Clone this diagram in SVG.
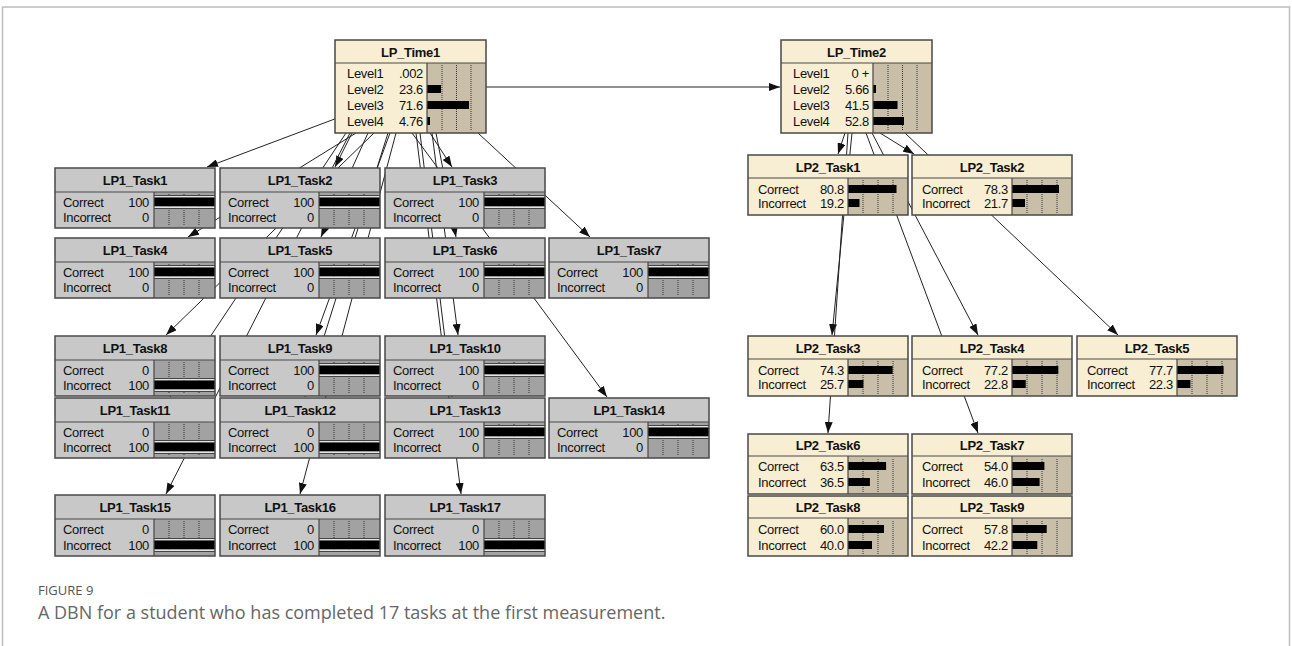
<svg xmlns="http://www.w3.org/2000/svg" xmlns:xlink="http://www.w3.org/1999/xlink" width="1292" height="646" viewBox="0 0 1292 646">
<style>
.bg-g{fill:#c8c8c8}
.bar-g{fill:#a2a2a2}
.bg-c{fill:#f8eed3}
.bar-c{fill:#c9bfa9}
.ol{fill:none;stroke:#484848;stroke-width:1.5}
.sep{stroke:#484848;stroke-width:1.2;fill:none}
.dot{stroke:#333;stroke-width:1;stroke-dasharray:1 1;fill:none}
.t{font-family:"Liberation Sans",Arial,sans-serif;font-size:13px;letter-spacing:-0.3px;fill:#111}
.ti{font-weight:bold;text-anchor:middle}
.v{text-anchor:end}
.edge{stroke:#222;stroke-width:1;fill:none;marker-end:url(#ah)}
.b{fill:#000}
.cap{font-family:"Open Sans","Liberation Sans",sans-serif}
</style>
<defs>
<marker id="ah" markerWidth="11" markerHeight="8" refX="11" refY="4" orient="auto" markerUnits="userSpaceOnUse"><path d="M0,0 L11,4 L0,8 z" fill="#111"/></marker>
<g id="dg"><path class="dot" d="M114,26V58M129,26V58M144,26V58"/></g>
<g id="dc"><path class="dot" d="M115,25V58M130,25V58M145,25V58"/></g>
<g id="dt"><path class="dot" d="M107,25V91M121.5,25V91M136,25V91"/></g>
<g id="full"><rect y="-7" width="61" height="1" fill="#444"/><rect y="-6" width="61" height="1.5" fill="#e4e4e4"/><rect y="-4.5" width="61" height="9" fill="#000"/><rect y="4.5" width="61" height="1.5" fill="#e4e4e4"/><rect y="6" width="61" height="1" fill="#444"/></g>
</defs>
<rect width="1292" height="646" fill="#fff"/>
<path d="M2.5,646V7H1289.5V646" fill="none" stroke="#bdbdbd" stroke-width="1.5"/>

<g id="connectors">
<path class="edge" d="M486,87H780"/>
<path class="edge" d="M340,117L207,167"/>
<path class="edge" d="M352,133L335,167"/>
<path class="edge" d="M430,133L452,167"/>
<path class="edge" d="M356,133L188,237"/>
<path class="edge" d="M368,133L321,237"/>
<path class="edge" d="M436,133L456,237"/>
<path class="edge" d="M478,133L590,237"/>
<path class="edge" d="M374,133L166,335"/>
<path class="edge" d="M390,133L316,335"/>
<path class="edge" d="M432,133L458,335"/>
<path class="edge" d="M346,133L170,397"/>
<path class="edge" d="M388,133L305,397"/>
<path class="edge" d="M420,133L452,397"/>
<path class="edge" d="M412,133L607,397"/>
<path class="edge" d="M350,133L166,494"/>
<path class="edge" d="M396,133L300,494"/>
<path class="edge" d="M416,133L461,494"/>
<path class="edge" d="M845,133L838,154"/>
<path class="edge" d="M880,133L914,154"/>
<path class="edge" d="M852,133L832,335"/>
<path class="edge" d="M872,133L978,335"/>
<path class="edge" d="M905,133L1118,335"/>
<path class="edge" d="M848,133L828,433"/>
<path class="edge" d="M866,133L978,433"/>
</g>

<g id="lp_time1" transform="translate(335,40)">
<rect class="bg-c" width="151" height="93"/><rect class="bar-c" x="92" y="23" width="59" height="70"/>
<use xlink:href="#dt"/>
<rect class="b" x="92" y="45" width="14" height="8"/><rect class="b" x="92" y="61" width="42" height="8"/><rect class="b" x="92" y="77" width="3" height="8"/>
<path class="sep" d="M0,23H151M92,23V93"/><rect class="ol" width="151" height="93"/>
<text class="t ti" x="75.5" y="16.5">LP_Time1</text>
<text class="t" x="12" y="37.5">Level1</text><text class="t v" x="88" y="37.5">.002</text>
<text class="t" x="12" y="53.5">Level2</text><text class="t v" x="88" y="53.5">23.6</text>
<text class="t" x="12" y="69.5">Level3</text><text class="t v" x="88" y="69.5">71.6</text>
<text class="t" x="12" y="85.5">Level4</text><text class="t v" x="88" y="85.5">4.76</text>
</g>

<g id="lp_time2" transform="translate(781,40)">
<rect class="bg-c" width="151" height="93"/><rect class="bar-c" x="92" y="23" width="59" height="70"/>
<use xlink:href="#dt"/>
<rect class="b" x="92" y="45" width="3" height="8"/><rect class="b" x="92" y="61" width="24.5" height="8"/><rect class="b" x="92" y="77" width="31" height="8"/>
<path class="sep" d="M0,23H151M92,23V93"/><rect class="ol" width="151" height="93"/>
<text class="t ti" x="75.5" y="16.5">LP_Time2</text>
<text class="t" x="12" y="37.5">Level1</text><text class="t v" x="88" y="37.5">0 +</text>
<text class="t" x="12" y="53.5">Level2</text><text class="t v" x="88" y="53.5">5.66</text>
<text class="t" x="12" y="69.5">Level3</text><text class="t v" x="88" y="69.5">41.5</text>
<text class="t" x="12" y="85.5">Level4</text><text class="t v" x="88" y="85.5">52.8</text>
</g>

<g id="lp1_task1" transform="translate(55,168)">
<rect class="bg-g" width="160" height="60"/><rect class="bar-g" x="99" y="24" width="61" height="36"/><use xlink:href="#dg"/><use xlink:href="#full" x="99" y="34"/>
<path class="sep" d="M0,24H160M99,24V60"/><rect class="ol" width="160" height="60"/>
<text class="t ti" x="80" y="17">LP1_Task1</text>
<text class="t" x="8" y="38.5">Correct</text><text class="t v" x="94" y="38.5">100</text>
<text class="t" x="8" y="53.5">Incorrect</text><text class="t v" x="94" y="53.5">0</text>
</g>
<g id="lp1_task2" transform="translate(220,168)">
<rect class="bg-g" width="160" height="60"/><rect class="bar-g" x="99" y="24" width="61" height="36"/><use xlink:href="#dg"/><use xlink:href="#full" x="99" y="34"/>
<path class="sep" d="M0,24H160M99,24V60"/><rect class="ol" width="160" height="60"/>
<text class="t ti" x="80" y="17">LP1_Task2</text>
<text class="t" x="8" y="38.5">Correct</text><text class="t v" x="94" y="38.5">100</text>
<text class="t" x="8" y="53.5">Incorrect</text><text class="t v" x="94" y="53.5">0</text>
</g>
<g id="lp1_task3" transform="translate(385,168)">
<rect class="bg-g" width="160" height="60"/><rect class="bar-g" x="99" y="24" width="61" height="36"/><use xlink:href="#dg"/><use xlink:href="#full" x="99" y="34"/>
<path class="sep" d="M0,24H160M99,24V60"/><rect class="ol" width="160" height="60"/>
<text class="t ti" x="80" y="17">LP1_Task3</text>
<text class="t" x="8" y="38.5">Correct</text><text class="t v" x="94" y="38.5">100</text>
<text class="t" x="8" y="53.5">Incorrect</text><text class="t v" x="94" y="53.5">0</text>
</g>
<g id="lp1_task4" transform="translate(55,238)">
<rect class="bg-g" width="160" height="60"/><rect class="bar-g" x="99" y="24" width="61" height="36"/><use xlink:href="#dg"/><use xlink:href="#full" x="99" y="34"/>
<path class="sep" d="M0,24H160M99,24V60"/><rect class="ol" width="160" height="60"/>
<text class="t ti" x="80" y="17">LP1_Task4</text>
<text class="t" x="8" y="38.5">Correct</text><text class="t v" x="94" y="38.5">100</text>
<text class="t" x="8" y="53.5">Incorrect</text><text class="t v" x="94" y="53.5">0</text>
</g>
<g id="lp1_task5" transform="translate(220,238)">
<rect class="bg-g" width="160" height="60"/><rect class="bar-g" x="99" y="24" width="61" height="36"/><use xlink:href="#dg"/><use xlink:href="#full" x="99" y="34"/>
<path class="sep" d="M0,24H160M99,24V60"/><rect class="ol" width="160" height="60"/>
<text class="t ti" x="80" y="17">LP1_Task5</text>
<text class="t" x="8" y="38.5">Correct</text><text class="t v" x="94" y="38.5">100</text>
<text class="t" x="8" y="53.5">Incorrect</text><text class="t v" x="94" y="53.5">0</text>
</g>
<g id="lp1_task6" transform="translate(385,238)">
<rect class="bg-g" width="160" height="60"/><rect class="bar-g" x="99" y="24" width="61" height="36"/><use xlink:href="#dg"/><use xlink:href="#full" x="99" y="34"/>
<path class="sep" d="M0,24H160M99,24V60"/><rect class="ol" width="160" height="60"/>
<text class="t ti" x="80" y="17">LP1_Task6</text>
<text class="t" x="8" y="38.5">Correct</text><text class="t v" x="94" y="38.5">100</text>
<text class="t" x="8" y="53.5">Incorrect</text><text class="t v" x="94" y="53.5">0</text>
</g>
<g id="lp1_task7" transform="translate(549,238)">
<rect class="bg-g" width="160" height="60"/><rect class="bar-g" x="99" y="24" width="61" height="36"/><use xlink:href="#dg"/><use xlink:href="#full" x="99" y="34"/>
<path class="sep" d="M0,24H160M99,24V60"/><rect class="ol" width="160" height="60"/>
<text class="t ti" x="80" y="17">LP1_Task7</text>
<text class="t" x="8" y="38.5">Correct</text><text class="t v" x="94" y="38.5">100</text>
<text class="t" x="8" y="53.5">Incorrect</text><text class="t v" x="94" y="53.5">0</text>
</g>
<g id="lp1_task8" transform="translate(55,336)">
<rect class="bg-g" width="160" height="60"/><rect class="bar-g" x="99" y="24" width="61" height="36"/><use xlink:href="#dg"/><use xlink:href="#full" x="99" y="49"/>
<path class="sep" d="M0,24H160M99,24V60"/><rect class="ol" width="160" height="60"/>
<text class="t ti" x="80" y="17">LP1_Task8</text>
<text class="t" x="8" y="38.5">Correct</text><text class="t v" x="94" y="38.5">0</text>
<text class="t" x="8" y="53.5">Incorrect</text><text class="t v" x="94" y="53.5">100</text>
</g>
<g id="lp1_task9" transform="translate(220,336)">
<rect class="bg-g" width="160" height="60"/><rect class="bar-g" x="99" y="24" width="61" height="36"/><use xlink:href="#dg"/><use xlink:href="#full" x="99" y="34"/>
<path class="sep" d="M0,24H160M99,24V60"/><rect class="ol" width="160" height="60"/>
<text class="t ti" x="80" y="17">LP1_Task9</text>
<text class="t" x="8" y="38.5">Correct</text><text class="t v" x="94" y="38.5">100</text>
<text class="t" x="8" y="53.5">Incorrect</text><text class="t v" x="94" y="53.5">0</text>
</g>
<g id="lp1_task10" transform="translate(385,336)">
<rect class="bg-g" width="160" height="60"/><rect class="bar-g" x="99" y="24" width="61" height="36"/><use xlink:href="#dg"/><use xlink:href="#full" x="99" y="34"/>
<path class="sep" d="M0,24H160M99,24V60"/><rect class="ol" width="160" height="60"/>
<text class="t ti" x="80" y="17">LP1_Task10</text>
<text class="t" x="8" y="38.5">Correct</text><text class="t v" x="94" y="38.5">100</text>
<text class="t" x="8" y="53.5">Incorrect</text><text class="t v" x="94" y="53.5">0</text>
</g>
<g id="lp1_task11" transform="translate(55,398)">
<rect class="bg-g" width="160" height="60"/><rect class="bar-g" x="99" y="24" width="61" height="36"/><use xlink:href="#dg"/><use xlink:href="#full" x="99" y="49"/>
<path class="sep" d="M0,24H160M99,24V60"/><rect class="ol" width="160" height="60"/>
<text class="t ti" x="80" y="17">LP1_Task11</text>
<text class="t" x="8" y="38.5">Correct</text><text class="t v" x="94" y="38.5">0</text>
<text class="t" x="8" y="53.5">Incorrect</text><text class="t v" x="94" y="53.5">100</text>
</g>
<g id="lp1_task12" transform="translate(220,398)">
<rect class="bg-g" width="160" height="60"/><rect class="bar-g" x="99" y="24" width="61" height="36"/><use xlink:href="#dg"/><use xlink:href="#full" x="99" y="49"/>
<path class="sep" d="M0,24H160M99,24V60"/><rect class="ol" width="160" height="60"/>
<text class="t ti" x="80" y="17">LP1_Task12</text>
<text class="t" x="8" y="38.5">Correct</text><text class="t v" x="94" y="38.5">0</text>
<text class="t" x="8" y="53.5">Incorrect</text><text class="t v" x="94" y="53.5">100</text>
</g>
<g id="lp1_task13" transform="translate(385,398)">
<rect class="bg-g" width="160" height="60"/><rect class="bar-g" x="99" y="24" width="61" height="36"/><use xlink:href="#dg"/><use xlink:href="#full" x="99" y="34"/>
<path class="sep" d="M0,24H160M99,24V60"/><rect class="ol" width="160" height="60"/>
<text class="t ti" x="80" y="17">LP1_Task13</text>
<text class="t" x="8" y="38.5">Correct</text><text class="t v" x="94" y="38.5">100</text>
<text class="t" x="8" y="53.5">Incorrect</text><text class="t v" x="94" y="53.5">0</text>
</g>
<g id="lp1_task14" transform="translate(549,398)">
<rect class="bg-g" width="160" height="60"/><rect class="bar-g" x="99" y="24" width="61" height="36"/><use xlink:href="#dg"/><use xlink:href="#full" x="99" y="34"/>
<path class="sep" d="M0,24H160M99,24V60"/><rect class="ol" width="160" height="60"/>
<text class="t ti" x="80" y="17">LP1_Task14</text>
<text class="t" x="8" y="38.5">Correct</text><text class="t v" x="94" y="38.5">100</text>
<text class="t" x="8" y="53.5">Incorrect</text><text class="t v" x="94" y="53.5">0</text>
</g>
<g id="lp1_task15" transform="translate(55,495)">
<rect class="bg-g" width="160" height="61"/><rect class="bar-g" x="99" y="24" width="61" height="37"/><use xlink:href="#dg"/><use xlink:href="#full" x="99" y="50"/>
<path class="sep" d="M0,24H160M99,24V61"/><rect class="ol" width="160" height="61"/>
<text class="t ti" x="80" y="17">LP1_Task15</text>
<text class="t" x="8" y="38.5">Correct</text><text class="t v" x="94" y="38.5">0</text>
<text class="t" x="8" y="54.5">Incorrect</text><text class="t v" x="94" y="54.5">100</text>
</g>
<g id="lp1_task16" transform="translate(220,495)">
<rect class="bg-g" width="160" height="61"/><rect class="bar-g" x="99" y="24" width="61" height="37"/><use xlink:href="#dg"/><use xlink:href="#full" x="99" y="50"/>
<path class="sep" d="M0,24H160M99,24V61"/><rect class="ol" width="160" height="61"/>
<text class="t ti" x="80" y="17">LP1_Task16</text>
<text class="t" x="8" y="38.5">Correct</text><text class="t v" x="94" y="38.5">0</text>
<text class="t" x="8" y="54.5">Incorrect</text><text class="t v" x="94" y="54.5">100</text>
</g>
<g id="lp1_task17" transform="translate(385,495)">
<rect class="bg-g" width="160" height="61"/><rect class="bar-g" x="99" y="24" width="61" height="37"/><use xlink:href="#dg"/><use xlink:href="#full" x="99" y="50"/>
<path class="sep" d="M0,24H160M99,24V61"/><rect class="ol" width="160" height="61"/>
<text class="t ti" x="80" y="17">LP1_Task17</text>
<text class="t" x="8" y="38.5">Correct</text><text class="t v" x="94" y="38.5">0</text>
<text class="t" x="8" y="54.5">Incorrect</text><text class="t v" x="94" y="54.5">100</text>
</g>

<g id="lp2_task1" transform="translate(748,155)">
<rect class="bg-c" width="160" height="60"/><rect class="bar-c" x="100" y="23" width="60" height="37"/><use xlink:href="#dc"/>
<rect class="b" x="100" y="30" width="48.5" height="8"/><rect class="b" x="100" y="44" width="11.5" height="8"/>
<path class="sep" d="M0,23H160M100,23V60"/><rect class="ol" width="160" height="60"/>
<text class="t ti" x="80" y="16.5">LP2_Task1</text>
<text class="t" x="10" y="38.5">Correct</text><text class="t v" x="96" y="38.5">80.8</text>
<text class="t" x="10" y="52.5">Incorrect</text><text class="t v" x="96" y="52.5">19.2</text>
</g>
<g id="lp2_task2" transform="translate(912,155)">
<rect class="bg-c" width="160" height="60"/><rect class="bar-c" x="100" y="23" width="60" height="37"/><use xlink:href="#dc"/>
<rect class="b" x="100" y="30" width="47" height="8"/><rect class="b" x="100" y="44" width="13" height="8"/>
<path class="sep" d="M0,23H160M100,23V60"/><rect class="ol" width="160" height="60"/>
<text class="t ti" x="80" y="16.5">LP2_Task2</text>
<text class="t" x="10" y="38.5">Correct</text><text class="t v" x="96" y="38.5">78.3</text>
<text class="t" x="10" y="52.5">Incorrect</text><text class="t v" x="96" y="52.5">21.7</text>
</g>
<g id="lp2_task3" transform="translate(748,336)">
<rect class="bg-c" width="160" height="60"/><rect class="bar-c" x="100" y="23" width="60" height="37"/><use xlink:href="#dc"/>
<rect class="b" x="100" y="30" width="44.6" height="8"/><rect class="b" x="100" y="44" width="15.4" height="8"/>
<path class="sep" d="M0,23H160M100,23V60"/><rect class="ol" width="160" height="60"/>
<text class="t ti" x="80" y="16.5">LP2_Task3</text>
<text class="t" x="10" y="38.5">Correct</text><text class="t v" x="96" y="38.5">74.3</text>
<text class="t" x="10" y="52.5">Incorrect</text><text class="t v" x="96" y="52.5">25.7</text>
</g>
<g id="lp2_task4" transform="translate(912,336)">
<rect class="bg-c" width="160" height="60"/><rect class="bar-c" x="100" y="23" width="60" height="37"/><use xlink:href="#dc"/>
<rect class="b" x="100" y="30" width="46.3" height="8"/><rect class="b" x="100" y="44" width="13.7" height="8"/>
<path class="sep" d="M0,23H160M100,23V60"/><rect class="ol" width="160" height="60"/>
<text class="t ti" x="80" y="16.5">LP2_Task4</text>
<text class="t" x="10" y="38.5">Correct</text><text class="t v" x="96" y="38.5">77.2</text>
<text class="t" x="10" y="52.5">Incorrect</text><text class="t v" x="96" y="52.5">22.8</text>
</g>
<g id="lp2_task5" transform="translate(1077,336)">
<rect class="bg-c" width="160" height="60"/><rect class="bar-c" x="100" y="23" width="60" height="37"/><use xlink:href="#dc"/>
<rect class="b" x="100" y="30" width="46.6" height="8"/><rect class="b" x="100" y="44" width="13.4" height="8"/>
<path class="sep" d="M0,23H160M100,23V60"/><rect class="ol" width="160" height="60"/>
<text class="t ti" x="80" y="16.5">LP2_Task5</text>
<text class="t" x="10" y="38.5">Correct</text><text class="t v" x="96" y="38.5">77.7</text>
<text class="t" x="10" y="52.5">Incorrect</text><text class="t v" x="96" y="52.5">22.3</text>
</g>
<g id="lp2_task6" transform="translate(748,434)">
<rect class="bg-c" width="160" height="60"/><rect class="bar-c" x="100" y="22" width="60" height="38"/><use xlink:href="#dc"/>
<rect class="b" x="100" y="28" width="38.1" height="8"/><rect class="b" x="100" y="44" width="21.9" height="8"/>
<path class="sep" d="M0,22H160M100,22V60"/><rect class="ol" width="160" height="60"/>
<text class="t ti" x="80" y="16">LP2_Task6</text>
<text class="t" x="10" y="36.5">Correct</text><text class="t v" x="96" y="36.5">63.5</text>
<text class="t" x="10" y="52.5">Incorrect</text><text class="t v" x="96" y="52.5">36.5</text>
</g>
<g id="lp2_task7" transform="translate(912,434)">
<rect class="bg-c" width="160" height="60"/><rect class="bar-c" x="100" y="22" width="60" height="38"/><use xlink:href="#dc"/>
<rect class="b" x="100" y="28" width="32.4" height="8"/><rect class="b" x="100" y="44" width="27.6" height="8"/>
<path class="sep" d="M0,22H160M100,22V60"/><rect class="ol" width="160" height="60"/>
<text class="t ti" x="80" y="16">LP2_Task7</text>
<text class="t" x="10" y="36.5">Correct</text><text class="t v" x="96" y="36.5">54.0</text>
<text class="t" x="10" y="52.5">Incorrect</text><text class="t v" x="96" y="52.5">46.0</text>
</g>
<g id="lp2_task8" transform="translate(748,496)">
<rect class="bg-c" width="160" height="60"/><rect class="bar-c" x="100" y="22" width="60" height="38"/><use xlink:href="#dc"/>
<rect class="b" x="100" y="29" width="36" height="8"/><rect class="b" x="100" y="45" width="24" height="8"/>
<path class="sep" d="M0,22H160M100,22V60"/><rect class="ol" width="160" height="60"/>
<text class="t ti" x="80" y="16">LP2_Task8</text>
<text class="t" x="10" y="37.5">Correct</text><text class="t v" x="96" y="37.5">60.0</text>
<text class="t" x="10" y="53.5">Incorrect</text><text class="t v" x="96" y="53.5">40.0</text>
</g>
<g id="lp2_task9" transform="translate(912,496)">
<rect class="bg-c" width="160" height="60"/><rect class="bar-c" x="100" y="22" width="60" height="38"/><use xlink:href="#dc"/>
<rect class="b" x="100" y="29" width="34.7" height="8"/><rect class="b" x="100" y="45" width="25.3" height="8"/>
<path class="sep" d="M0,22H160M100,22V60"/><rect class="ol" width="160" height="60"/>
<text class="t ti" x="80" y="16">LP2_Task9</text>
<text class="t" x="10" y="37.5">Correct</text><text class="t v" x="96" y="37.5">57.8</text>
<text class="t" x="10" y="53.5">Incorrect</text><text class="t v" x="96" y="53.5">42.2</text>
</g>

<g id="caption">
<text class="cap" x="38" y="595" font-size="13" fill="#555">FIGURE 9</text>
<text class="cap" x="38" y="619" font-size="18" fill="#666">A DBN for a student who has completed 17 tasks at the first measurement.</text>
</g>
</svg>
